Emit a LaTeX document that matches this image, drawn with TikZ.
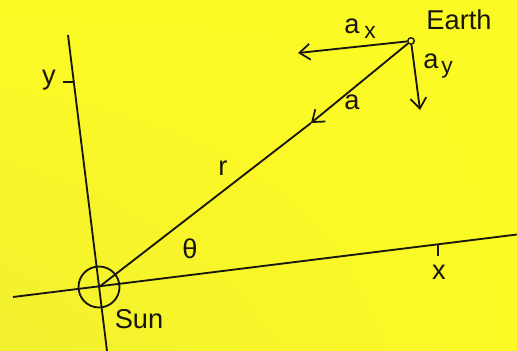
\documentclass[tikz,border=0pt]{standalone}
\usepackage{fontspec}
\setmainfont{Liberation Sans}
\usetikzlibrary{arrows.meta, shapes.geometric, positioning, calc, shadings}
\definecolor{sunbg}  {RGB}{252,250,36}
\definecolor{sunbgd} {RGB}{242,240,48}
\definecolor{ink}    {RGB}{25,22,15}

\begin{document}
\begin{tikzpicture}[x=0.02cm, y=-0.02cm, line width=1.05pt, draw=ink,
    lbl/.style={text=ink, font=\fontsize{15.5}{18}\selectfont, inner sep=0pt},
    sub/.style={lbl, font=\fontsize{13}{15}\selectfont},
    vec/.style={-{Straight Barb[length=6pt, width=9pt, line width=1pt]}}]
  % background
  \shade[lower left=sunbgd, upper left=sunbg, upper right=sunbg,
         lower right=sunbg] (0,0) rectangle (517,351);
  \useasboundingbox (0,0) rectangle (517,351);

  % axes
  \coordinate (ytop) at (68,35);
  \coordinate (ybot) at (107,351);
  \coordinate (xleft) at (13,297);
  \coordinate (xright) at (517,234.5);
  \draw (ytop) -- (ybot);
  \draw (xleft) -- (xright);
  \coordinate (ytick) at (73.8,82);
  \coordinate (xtick) at (438,244.3);
  \draw (ytick) -- ++(-11,0);
  \draw (xtick) -- ++(0,12);
  \node[lbl] (ylabel) at (49,80) {y};
  \node[lbl] (xlabel) at (439,272) {x};

  % sun and earth
  \node[circle, draw, minimum size=0.82cm, inner sep=0pt] (sun) at (99,287) {};
  \node[circle, draw, minimum size=0.13cm, inner sep=0pt, line width=0.8pt] (earth) at (411,41) {};
  \node[lbl] (sunlabel) at (139,319) {Sun};
  \node[lbl] (earthlabel) at (459,20) {Earth};

  % r and acceleration
  \coordinate (atip) at (311,123);
  \draw[vec] (earth) -- (atip);
  \draw (atip) -- (sun.center);
  \coordinate (axend) at (298,53);
  \coordinate (ayend) at (420,110);
  \draw[vec] (earth) -- (axend);
  \draw[vec] (earth) -- (ayend);

  \node[lbl] (alabel) at (352,102) {a};
  \node[lbl] (axlabel) at (352,26) {a};
  \node[sub] (axsub) at (370,32) {x};
  \node[lbl] (aylabel) at (431,61) {a};
  \node[sub] (aysub) at (447,70) {y};
  \node[lbl] (rlabel) at (223,168) {r};
  \node[lbl] (thlabel) at (190,249) {θ};
\end{tikzpicture}
\end{document}
